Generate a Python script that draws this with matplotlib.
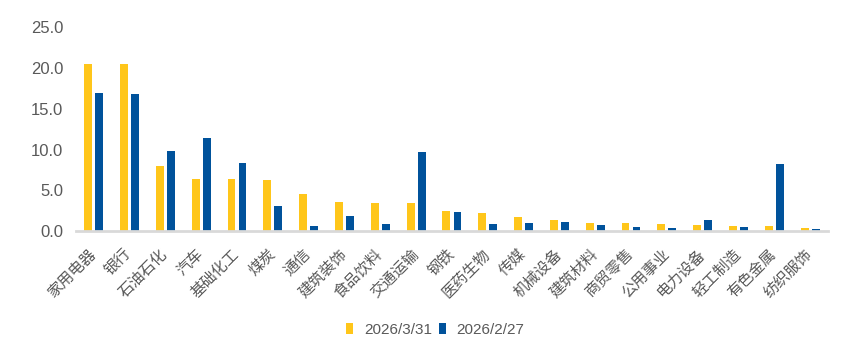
import numpy as np
import matplotlib
matplotlib.use("Agg")
import matplotlib.pyplot as plt

plt.rcParams['font.family'] = ['Liberation Sans', 'Noto Sans CJK SC', 'DejaVu Sans']

# === Data ===
industries = ["家用电器", "银行", "石油石化", "汽车", "基础化工", "煤炭", "通信",
              "建筑装饰", "食品饮料", "交通运输", "钢铁", "医药生物", "传媒",
              "机械设备", "建筑材料", "商贸零售", "公用事业", "电力设备",
              "轻工制造", "有色金属", "纺织服饰"]
vals_0331 = [20.5, 20.5, 8.0, 6.4, 6.4, 6.3, 4.5, 3.6, 3.5, 3.4, 2.5, 2.2,
             1.7, 1.4, 1.0, 1.0, 0.9, 0.7, 0.6, 0.6, 0.4]
vals_0227 = [17.0, 16.8, 9.8, 11.4, 8.4, 3.1, 0.6, 1.9, 0.9, 9.7, 2.4, 0.9,
             1.0, 1.1, 0.7, 0.5, 0.4, 1.4, 0.5, 8.2, 0.3]
labels = ["2026/3/31", "2026/2/27"]
yticks = [0, 5, 10, 15, 20, 25]

yellow = "#FFC61A"
blue = "#00529B"
gray_txt = "#595959"

fig = plt.figure(figsize=(8.62, 3.55), dpi=100)
ax = fig.add_axes([0.088, 0.349, 0.8726, 0.574])

x = np.arange(len(industries))
w = 0.22
ax.bar(x - 0.154, vals_0331, width=w, color=yellow, label=labels[0], zorder=3)
ax.bar(x + 0.154, vals_0227, width=w, color=blue, label=labels[1], zorder=3)

ax.set_xlim(-0.5, len(industries) - 0.5)
ax.set_ylim(0, 25)
ax.set_yticks(yticks)
ax.set_yticklabels([f"{v:.1f}" for v in yticks], fontsize=12, color=gray_txt)

ax.set_xticks(x)
ax.set_xticklabels(industries, rotation=45, ha='right', va='center',
                   rotation_mode='anchor', fontsize=11, color=gray_txt)

for s in ['top', 'right', 'left']:
    ax.spines[s].set_visible(False)
ax.spines['bottom'].set_color("#D9D9D9")
ax.spines['bottom'].set_linewidth(2)
ax.spines['bottom'].set_zorder(4)
ax.tick_params(axis='both', length=0)
ax.tick_params(axis='y', pad=9)
ax.tick_params(axis='x', pad=15)

fig.legend(loc='center', bbox_to_anchor=(0.505, 0.07), ncol=2, frameon=False,
           fontsize=11, handlelength=0.45, handleheight=0.7, handletextpad=0.7,
           columnspacing=0.45, labelcolor=gray_txt)

plt.savefig("out.png", dpi=100)
plt.close()
